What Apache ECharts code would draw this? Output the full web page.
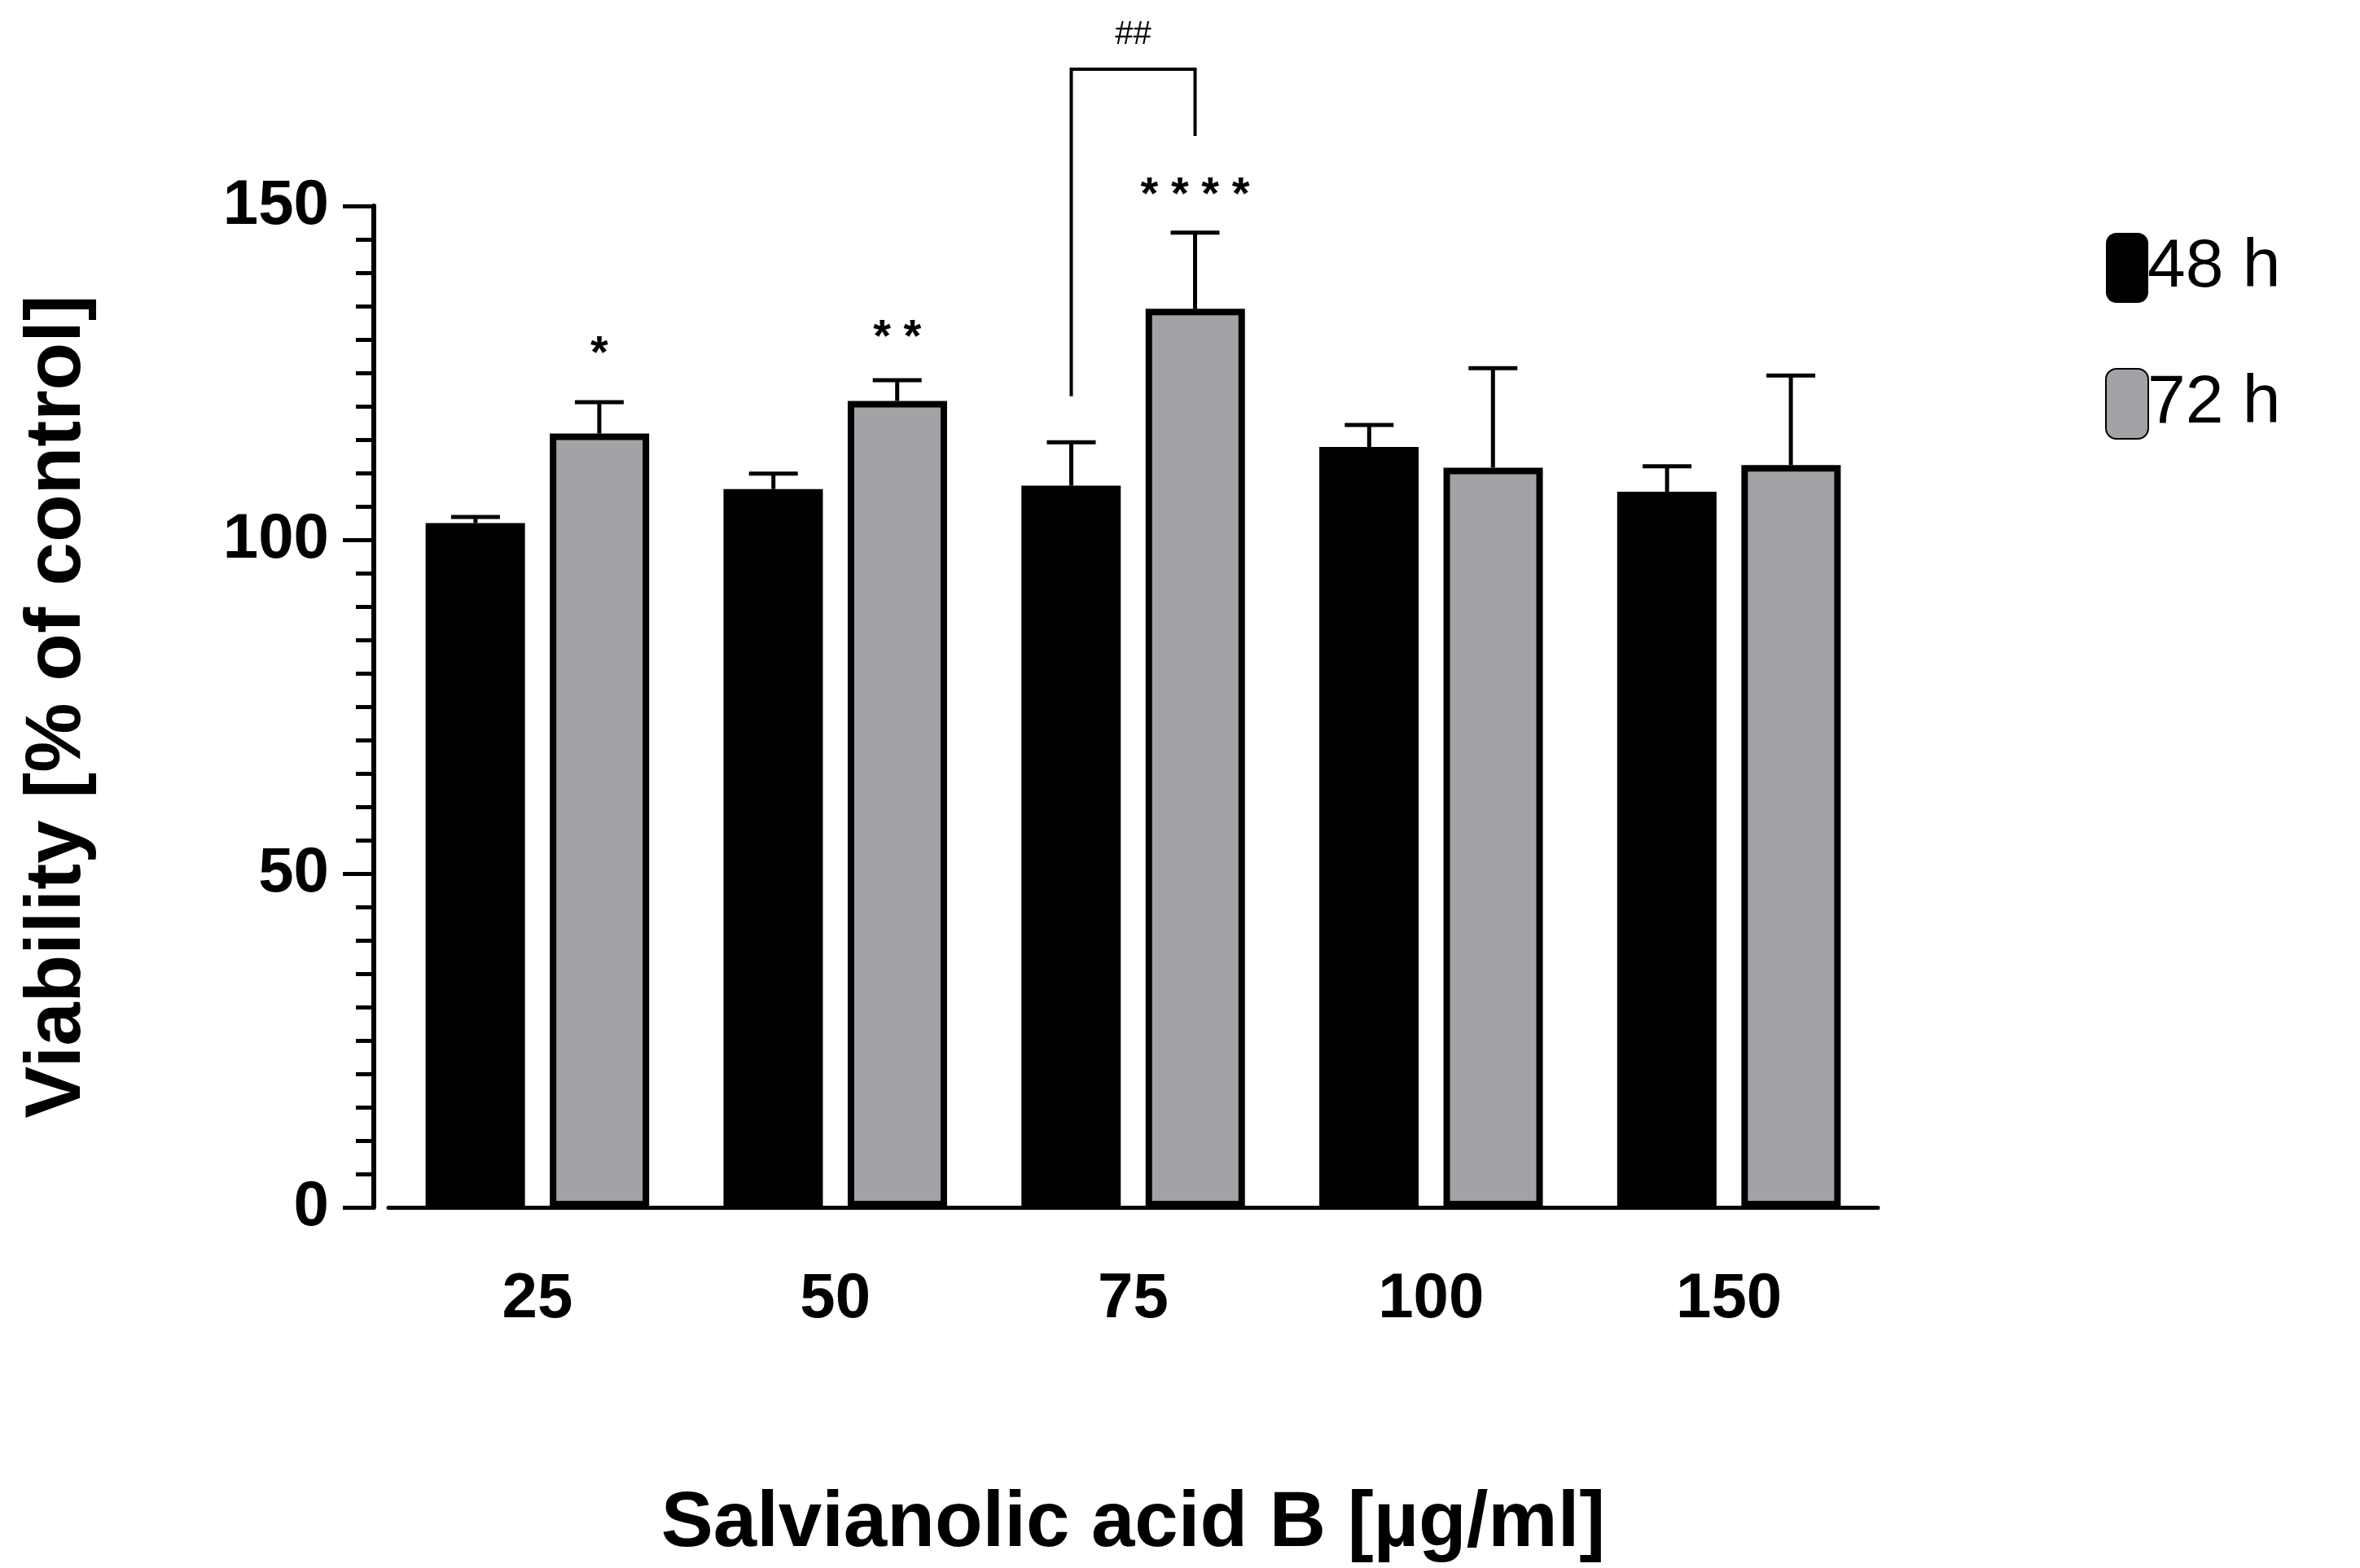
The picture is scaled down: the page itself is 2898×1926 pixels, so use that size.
<!DOCTYPE html>
<html>
<head>
<meta charset="utf-8">
<script src="https://cdn.jsdelivr.net/npm/echarts@6/dist/echarts.min.js"></script>
<style>html,body{margin:0;background:#fff}#main{width:2898px;height:1926px}</style>
</head>
<body>
<div id="main"></div>
<script>
const categories = ["25", "50", "75", "100", "150"];
const mean48 = [102.5, 107.6, 108.1, 113.9, 107.2];
const err48 = [103.4, 109.9, 114.6, 117.2, 111.0];
const mean72 = [115.9, 120.8, 134.6, 110.8, 111.2];
const err72 = [120.6, 123.9, 146.0, 125.7, 124.6];
const stars = [[0, 127.7, "*"], [1, 130.2, "* *"], [2, 151.5, "* * * *"]];
const bracket = { cat: 2, leftEnd: 121.5, top: 170.5, rightEnd: 160.5, label: "##", labelY: 175.6 };

const chart = echarts.init(document.getElementById("main"));
const barW = 122, gap = 30, off = (barW + gap) / 2;
const font = "Liberation Sans";

function errorSeries(means, errs, side) {
    return {
        type: "custom",
        silent: true,
        z: 5,
        data: means.map((m, i) => [i, m, errs[i]]),
        renderItem: (params, api) => {
            const a = api.coord([api.value(0), api.value(1)]);
            const b = api.coord([api.value(0), api.value(2)]);
            const x = a[0] + side * off;
            const st = { stroke: "#000", lineWidth: 5 };
            return {
                type: "group",
                children: [
                    { type: "line", shape: { x1: x, y1: a[1], x2: x, y2: b[1] }, style: st },
                    { type: "line", shape: { x1: x - 30, y1: b[1], x2: x + 30, y2: b[1] }, style: st },
                ],
            };
        },
    };
}

const option = {
    animation: false,
    grid: { left: 477, right: 592, top: 253, bottom: 429 },
    legend: {
        orient: "vertical",
        left: 2580,
        top: 281,
        itemWidth: 52,
        itemHeight: 86,
        itemGap: 80,
        data: ["48 h", "72 h"],
        textStyle: { fontFamily: font, fontSize: 84, color: "#000", padding: [0, 0, 0, -6] },
    },
    xAxis: {
        type: "category",
        data: categories,
        name: "Salvianolic acid B [µg/ml]",
        nameLocation: "middle",
        nameGap: 342,
        nameTextStyle: { fontFamily: font, fontWeight: "bold", fontSize: 96, color: "#000" },
        axisLine: { lineStyle: { color: "#000", width: 5 } },
        axisTick: { alignWithLabel: true, length: 40, lineStyle: { color: "#000", width: 5 } },
        axisLabel: { margin: 74, fontFamily: font, fontWeight: "bold", fontSize: 78, color: "#000" },
    },
    yAxis: {
        type: "value",
        min: 0,
        max: 150,
        interval: 50,
        offset: 18,
        name: "Viability [% of control]",
        nameLocation: "middle",
        nameGap: 339,
        nameTextStyle: { fontFamily: font, fontWeight: "bold", fontSize: 96, color: "#000" },
        axisLine: { show: true, lineStyle: { color: "#000", width: 6 } },
        axisTick: { show: true, length: 38, lineStyle: { color: "#000", width: 5 } },
        minorTick: { show: true, splitNumber: 10, length: 22, lineStyle: { color: "#000", width: 5 } },
        splitLine: { show: false },
        axisLabel: { margin: 55, fontFamily: font, fontWeight: "bold", fontSize: 78, color: "#000" },
    },
    series: [
        {
            name: "48 h",
            type: "bar",
            data: mean48,
            barWidth: barW,
            barGap: "25%",
            itemStyle: { color: "#000" },
        },
        {
            name: "72 h",
            type: "bar",
            data: mean72,
            barWidth: barW,
            itemStyle: { color: "#a3a2a7", borderColor: "#000", borderWidth: 8 },
        },
        errorSeries(mean48, err48, -1),
        errorSeries(mean72, err72, 1),
        {
            type: "custom",
            silent: true,
            z: 6,
            data: stars,
            renderItem: (params, api) => {
                const p = api.coord([api.value(0), api.value(1)]);
                return {
                    type: "text",
                    x: p[0] + off,
                    y: p[1],
                    style: {
                        text: stars[params.dataIndex][2],
                        fontFamily: font, fontWeight: "bold", fontSize: 56, fill: "#000",
                        align: "center", verticalAlign: "middle",
                    },
                };
            },
        },
        {
            type: "custom",
            silent: true,
            clip: false,
            z: 6,
            data: [[bracket.cat, bracket.top]],
            renderItem: (params, api) => {
                const c = api.coord([api.value(0), bracket.top]);
                const yl = api.coord([bracket.cat, bracket.leftEnd])[1];
                const yr = api.coord([bracket.cat, bracket.rightEnd])[1];
                const yt = api.coord([bracket.cat, bracket.labelY])[1];
                const xl = c[0] - off, xr = c[0] + off;
                return {
                    type: "group",
                    children: [
                        {
                            type: "polyline",
                            shape: { points: [[xl, yl], [xl, c[1]], [xr, c[1]], [xr, yr]] },
                            style: { stroke: "#000", lineWidth: 4, fill: null },
                        },
                        {
                            type: "text", x: c[0], y: yt,
                            style: { text: bracket.label, fontFamily: font, fontSize: 40, fill: "#000", align: "center", verticalAlign: "middle" },
                        },
                    ],
                };
            },
        },
    ],
};

chart.setOption(option);
</script>
</body>
</html>
